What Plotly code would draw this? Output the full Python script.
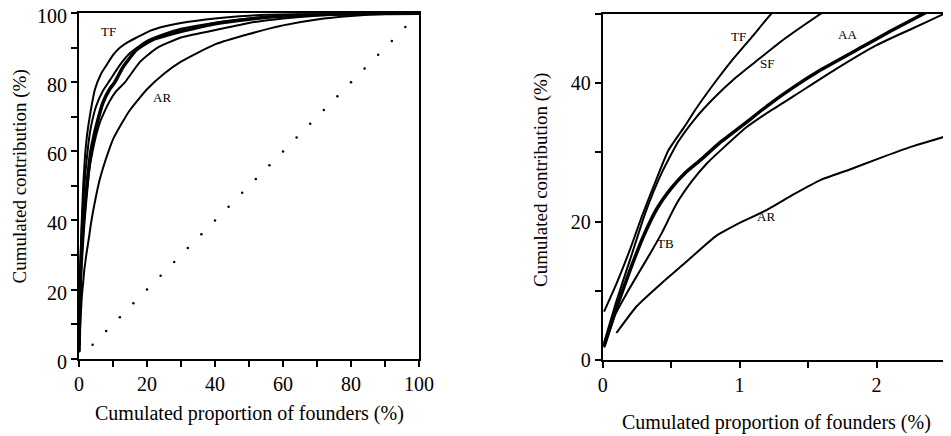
import plotly.graph_objects as go

# ---- data (cumulated proportion of founders %, cumulated contribution %) ----
tf_x = [0.01, 0.1, 0.2, 0.285, 0.4, 0.48, 0.6, 0.674, 0.8, 0.94, 1.1, 1.23, 1.5, 1.8, 2.4, 3.2, 4.7, 6.5, 8.1,
        10.1, 12, 14.5, 17, 21, 25, 30, 40, 50, 60, 75, 100]
tf_y = [7, 11, 16, 20.7, 26.5, 30.3, 33.8, 36.1, 39.6, 43.2, 46.9, 50, 54.5, 59, 65, 70.3, 78, 82.5, 85,
        88, 90, 91.7, 93, 95, 96.2, 97.2, 98.5, 99.3, 99.7, 100, 100]

sf_x = [0.01, 0.1, 0.2, 0.31, 0.43, 0.55, 0.68, 0.82, 0.96, 1.11, 1.3, 1.59, 1.9, 2.2, 2.8, 3.5, 5, 7, 9,
        12, 15, 20, 25, 30, 40, 50, 60, 75, 100]
sf_y = [2.5, 8.5, 14.5, 21.2, 27, 31.5, 35, 38, 40.6, 43, 46, 50, 54, 57, 62.5, 67, 73, 77.5, 80.5,
        85, 88.5, 92, 94, 95.5, 97.3, 98.5, 99.2, 99.8, 100]

aa_x = [0.01, 0.1, 0.2, 0.3, 0.4, 0.5, 0.6, 0.72, 0.85, 1.04, 1.2, 1.4, 1.6, 1.9, 2.1, 2.34, 2.8, 3.5, 4.2,
        5, 7, 9, 10.5, 13, 17, 22, 31, 40, 50, 60, 75, 100]
aa_y = [2, 7.5, 13, 18, 22, 24.8, 27, 29, 31.3, 34.2, 36.7, 39.5, 42, 45.3, 47.5, 50, 54.5, 60, 63.5,
        67, 74, 78, 80, 84.5, 89.5, 92.5, 95, 97, 98.3, 99.2, 99.8, 100]

tb_x = [0.01, 0.09, 0.18, 0.26, 0.35, 0.43, 0.54, 0.65, 0.76, 0.9, 1.04, 1.2, 1.4, 1.7, 2.0, 2.25, 2.48,
        3, 4, 5, 6, 7.5, 9, 11, 13.5, 18, 23, 30, 39.5, 50, 60, 70, 85, 100]
tb_y = [1.8, 6.5, 9.8, 12.5, 15.5, 18.3, 22.6, 25.8, 28.4, 31, 33.5, 35.7, 38.2, 42, 45.5, 47.8, 49.9,
        54.5, 60, 64.5, 68, 71.5, 74.5, 77.5, 80, 86, 90, 93, 95, 97.2, 98.5, 99.3, 99.8, 100]

ar_x = [0.1, 0.25, 0.43, 0.6, 0.82, 1.0, 1.2, 1.4, 1.59, 1.8, 2.0, 2.25, 2.5, 3, 3.5, 4.2, 5, 6, 7, 8.5,
        10, 12.5, 15, 20, 25, 30, 40, 50, 60, 70, 80, 90, 100]
ar_y = [3.9, 7.8, 11.1, 14, 17.8, 19.8, 21.7, 24, 26, 27.5, 29, 30.8, 32.3, 35.5, 39, 43, 47, 51.5, 55, 59.5,
        63.5, 68, 72, 78, 82.5, 86, 91, 94, 96.5, 98.2, 99.2, 99.8, 100]

diag = [4, 8, 12, 16, 20, 24, 28, 32, 36, 40, 44, 48, 52, 56, 60, 64, 68, 72, 76, 80, 84, 88, 92, 96]

left_xticks = [0, 10, 20, 30, 40, 50, 60, 70, 80, 90, 100]
left_xtext = ["0", "", "20", "", "40", "", "60", "", "80", "", "100"]
left_yticks = [0, 10, 20, 30, 40, 50, 60, 70, 80, 90, 100]
left_ytext = ["0", "", "20", "", "40", "", "60", "", "80", "", "100"]
right_xticks = [0, 0.5, 1, 1.5, 2, 2.5]
right_xtext = ["0", "", "1", "", "2", ""]
right_yticks = [0, 10, 20, 30, 40, 50]
right_ytext = ["0", "", "20", "", "40", ""]

series = [
    ("TF", tf_x, tf_y, 2.0),
    ("SF", sf_x, sf_y, 2.0),
    ("AA", aa_x, aa_y, 3.5),
    ("TB", tb_x, tb_y, 2.0),
    ("AR", ar_x, ar_y, 2.0),
]

FONT = "Liberation Serif"
# the page body keeps an 8px margin, so the figure is 8px smaller than the window
W, H = 943, 428
fig = go.Figure()

for xa, ya in (("x", "y"), ("x2", "y2")):
    for name, xs, ys, w in series:
        fig.add_trace(go.Scatter(x=xs, y=ys, mode="lines", name=name,
                                 line=dict(color="black", width=w, shape="spline", smoothing=0.5),
                                 xaxis=xa, yaxis=ya, showlegend=False, hoverinfo="skip"))

fig.add_trace(go.Scatter(x=diag, y=diag, mode="markers",
                         marker=dict(color="black", size=2.5),
                         xaxis="x", yaxis="y", showlegend=False, hoverinfo="skip"))

axis_common = dict(showline=True, linecolor="black", linewidth=2, mirror=True,
                   ticks="outside", ticklen=6, tickwidth=1.5, tickcolor="black",
                   showgrid=False, zeroline=False, automargin=False,
                   ticklabeloverflow="allow",
                   tickfont=dict(family=FONT, size=20, color="black"))

fig.update_layout(
    width=W, height=H,
    margin=dict(l=0, r=0, t=0, b=0, pad=0),
    paper_bgcolor="white", plot_bgcolor="white",
    font=dict(family=FONT, color="black"),
    xaxis=dict(domain=[71 / W, 411 / W], range=[0, 100], tickmode="array",
               tickvals=left_xticks, ticktext=left_xtext, anchor="y", **axis_common),
    yaxis=dict(domain=[1 - 350.6 / H, 1 - 5.3 / H], range=[0, 100], tickmode="array",
               tickvals=left_yticks, ticktext=left_ytext, anchor="x", ticklabelshift=3,
               **axis_common),
    xaxis2=dict(domain=[594.7 / W, 937 / W], range=[0, 2.5], tickmode="array",
                tickvals=right_xticks, ticktext=right_xtext, anchor="y2", **axis_common),
    yaxis2=dict(domain=[1 - 352 / H, 1 - 6 / H], range=[0, 50], tickmode="array",
                tickvals=right_yticks, ticktext=right_ytext, anchor="x2", **axis_common),
)

lab = dict(family=FONT, size=13, color="black")
labels = [
    ("x", "y", 8.8, 94.8, "TF"),
    ("x", "y", 24.4, 75.7, "AR"),
    ("x2", "y2", 0.99, 46.8, "TF"),
    ("x2", "y2", 1.2, 42.9, "SF"),
    ("x2", "y2", 1.79, 47.1, "AA"),
    ("x2", "y2", 0.455, 16.9, "TB"),
    ("x2", "y2", 1.19, 20.7, "AR"),
]
for xr, yr, x, y, t in labels:
    fig.add_annotation(x=x, y=y, xref=xr, yref=yr, text=t, showarrow=False, font=lab,
                       xanchor="center", yanchor="middle")

titles = [
    (242, 405, 0, 20, "Cumulated proportion of founders (%)"),
    (768, 414, 0, 20, "Cumulated proportion of founders (%)"),
    (11, 168.5, -90, 19, "Cumulated contribution (%)"),
    (533, 172, -90, 19, "Cumulated contribution (%)"),
]
for px, py, ang, size, t in titles:
    fig.add_annotation(x=px / W, y=1 - py / H, xref="paper", yref="paper", textangle=ang,
                       text=t, showarrow=False, font=dict(family=FONT, size=size, color="black"),
                       xanchor="center", yanchor="middle")

fig.write_html("out.html")
